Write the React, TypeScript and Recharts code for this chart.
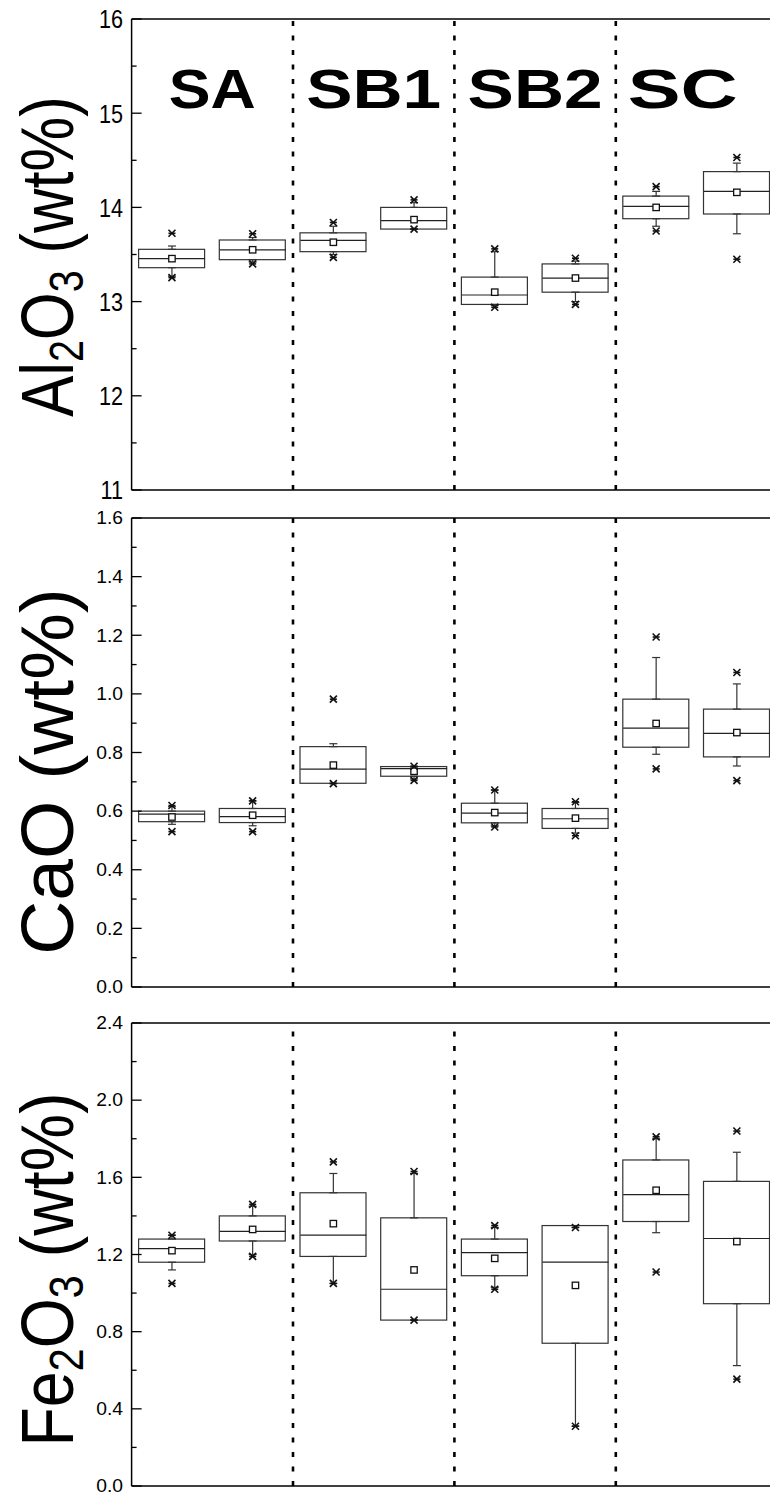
import React from 'react'
import { ComposedChart, Bar, Scatter, ErrorBar, XAxis, YAxis, ReferenceLine } from 'recharts'

const samples = [0, 1, 2, 3, 4, 5, 6, 7]
const groups = ['SA', 'SB1', 'SB2', 'SC']
const dividers = [1.5, 3.5, 5.5]

// Al2O3 (wt%)
const alQ1 = [13.36, 13.445, 13.53, 13.77, 12.97, 13.1, 13.88, 13.93]
const alMed = [13.456, 13.55, 13.65, 13.86, 13.07, 13.25, 14.01, 14.17]
const alQ3 = [13.555, 13.654, 13.73, 14.0, 13.26, 13.4, 14.12, 14.38]
const alMean = [13.456, 13.55, 13.63, 13.87, 13.1, 13.25, 14.0, 14.16]
const alWLo = [13.27, 13.42, 13.5, 13.77, 12.96, 13.0, 13.8, 13.72]
const alWHi = [13.59, 13.68, 13.8, 14.05, 13.53, 13.43, 14.17, 14.47]
const alMin = [13.254, 13.4, 13.47, 13.77, 12.94, 12.97, 13.75, 13.45]
const alMax = [13.725, 13.72, 13.84, 14.08, 13.56, 13.46, 14.22, 14.53]

// CaO (wt%)
const caQ1 = [0.564, 0.561, 0.695, 0.719, 0.56, 0.541, 0.818, 0.785]
const caMed = [0.59, 0.581, 0.743, 0.745, 0.593, 0.574, 0.883, 0.865]
const caQ3 = [0.6, 0.609, 0.82, 0.752, 0.627, 0.609, 0.982, 0.948]
const caMean = [0.58, 0.586, 0.757, 0.736, 0.595, 0.576, 0.899, 0.868]
const caWLo = [0.555, 0.55, 0.694, 0.71, 0.55, 0.525, 0.794, 0.754]
const caWHi = [0.615, 0.635, 0.83, 0.753, 0.672, 0.63, 1.124, 1.034]
const caMin = [0.53, 0.53, 0.694, 0.705, 0.546, 0.516, 0.744, 0.704]
const caMax = [0.619, 0.635, 0.982, 0.753, 0.672, 0.632, 1.194, 1.073]

// Fe2O3 (wt%)
const feQ1 = [1.16, 1.27, 1.19, 0.86, 1.09, 0.74, 1.371, 0.945]
const feMed = [1.23, 1.32, 1.3, 1.02, 1.21, 1.16, 1.51, 1.283]
const feQ3 = [1.28, 1.4, 1.52, 1.39, 1.28, 1.35, 1.69, 1.579]
const feMean = [1.22, 1.33, 1.36, 1.12, 1.18, 1.04, 1.533, 1.267]
const feWLo = [1.12, 1.2, 1.05, 0.86, 1.03, 0.31, 1.313, 0.624]
const feWHi = [1.3, 1.45, 1.62, 1.62, 1.34, 1.34, 1.8, 1.73]
const feMin = [1.05, 1.19, 1.05, 0.86, 1.02, 0.31, 1.109, 0.554]
const feMax = [1.3, 1.46, 1.68, 1.63, 1.35, 1.34, 1.81, 1.84]

const alMajor = [11, 12, 13, 14, 15, 16]
const alMinor = [11.5, 12.5, 13.5, 14.5, 15.5]
const caMajor = [0, 0.2, 0.4, 0.6, 0.8, 1.0, 1.2, 1.4, 1.6]
const caMinor = [0.1, 0.3, 0.5, 0.7, 0.9, 1.1, 1.3, 1.5]
const feMajor = [0, 0.4, 0.8, 1.2, 1.6, 2.0, 2.4]
const feMinor = [0.2, 0.6, 1.0, 1.4, 1.8, 2.2]

const FONT = 'Liberation Sans, Arial, Helvetica, sans-serif'
const BOX_W = 66
const CHART_W = 790

function buildRows(q1, med, q3, mean, wLo, wHi, mn, mx) {
  return samples.map((x, i) => ({
    x,
    box: [q1[i], q3[i]],
    q1: q1[i],
    q3: q3[i],
    med: med[i],
    mean: mean[i],
    min: mn[i],
    max: mx[i],
    errUp: [0, wHi[i] - q3[i]],
    errDown: [q1[i] - wLo[i], 0],
  }))
}

const BoxShape = (p: any) => {
  const top = Math.min(p.y, p.y + p.height)
  const h = Math.abs(p.height)
  return <rect x={p.x} y={top} width={p.width} height={h} fill="#fff" stroke="#333" strokeWidth={1.2} />
}
const MedianShape = (p: any) => (
  <line x1={p.cx - BOX_W / 2} x2={p.cx + BOX_W / 2} y1={p.cy} y2={p.cy} stroke="#222" strokeWidth={1.2} />
)
const MeanShape = (p: any) => (
  <rect x={p.cx - 3.2} y={p.cy - 3.2} width={6.4} height={6.4} fill="#fff" stroke="#111" strokeWidth={1.3} />
)
const StarShape = (p: any) => (
  <g stroke="#111" strokeWidth={1.6}>
    <line x1={p.cx - 3.5} y1={p.cy - 3.5} x2={p.cx + 3.5} y2={p.cy + 3.5} />
    <line x1={p.cx - 3.5} y1={p.cy + 3.5} x2={p.cx + 3.5} y2={p.cy - 3.5} />
    <line x1={p.cx - 3.5} y1={p.cy} x2={p.cx + 3.5} y2={p.cy} />
  </g>
)
const NoShape = () => <g />

function makeLeftTick(majors: number[], fs: number, sx: number, dec: number) {
  return (p: any) => {
    const v = p.payload.value
    const major = majors.some((m) => Math.abs(m - v) < 1e-6)
    return (
      <g>
        <line x1={p.x} x2={p.x + (major ? 10 : 5)} y1={p.y} y2={p.y} stroke="#000" strokeWidth={1.3} />
        {major && (
          <text
            transform={`translate(${p.x - 8.6},${p.y + fs * 0.36}) scale(${sx},1)`}
            textAnchor="end"
            fontSize={fs}
            fontFamily={FONT}
            fill="#000"
          >
            {v.toFixed(dec)}
          </text>
        )}
      </g>
    )
  }
}
function makeRightTick(majors: number[]) {
  return (p: any) => {
    const v = p.payload.value
    const major = majors.some((m) => Math.abs(m - v) < 1e-6)
    return <line x1={p.x - (major ? 10 : 5)} x2={p.x} y1={p.y} y2={p.y} stroke="#000" strokeWidth={1.3} />
  }
}

function AxisTitle({ viewBox, parts, stretch, shift }: any) {
  const cx = viewBox.x - 58
  const cy = viewBox.y + viewBox.height / 2 + shift
  return (
    <text
      transform={`translate(${cx},${cy}) rotate(-90) scale(${stretch},1)`}
      textAnchor="middle"
      fontSize={75}
      fontFamily={FONT}
      fill="#000"
    >
      {parts.map((t: any, i: number) =>
        t.sub ? (
          <tspan key={i} fontSize={48} dy={10}>
            {t.s}
          </tspan>
        ) : (
          <tspan key={i} dy={i > 0 && parts[i - 1].sub ? -10 : 0}>
            {t.s}
          </tspan>
        )
      )}
    </text>
  )
}

const GroupTitle = (p: any) => (
  <text
    x={p.cx}
    y={p.cy}
    textAnchor="middle"
    fontSize={56}
    fontWeight="bold"
    fontFamily={FONT}
    fill="#000"
    textLength={p.payload.w}
    lengthAdjust="spacingAndGlyphs"
  >
    {p.payload.name}
  </text>
)

function Panel({ rows, domain, majors, minors, fs, sx, dec, parts, stretch, shift, top, height, mTop, mBottom, titles }: any) {
  const ticks = [...majors, ...minors].sort((a, b) => a - b)
  const line = { stroke: '#000', strokeWidth: 1.5 }
  return (
    <div style={{ position: 'absolute', left: 0, top }}>
      <ComposedChart
        width={CHART_W}
        height={height}
        data={rows}
        margin={{ top: mTop, right: 11.8, bottom: mBottom, left: 130.6 }}
      >
        <XAxis xAxisId="b" dataKey="x" type="number" domain={[-0.5, 7.5]} ticks={samples} interval={0}
          height={1} tick={false} tickSize={-9} tickLine={line} axisLine={line} />
        <XAxis xAxisId="t" orientation="top" dataKey="x" type="number" domain={[-0.5, 7.5]} ticks={samples}
          interval={0} height={1} tick={false} tickSize={-8} tickLine={line} axisLine={line} />
        <YAxis yAxisId="l" type="number" domain={domain} ticks={ticks} interval={0} width={1}
          tickSize={0} tickMargin={0} tickLine={false} axisLine={line}
          tick={makeLeftTick(majors, fs, sx, dec)}
          label={{
            content: (lp: any) => <AxisTitle viewBox={lp.viewBox} parts={parts} stretch={stretch} shift={shift} />,
          }} />
        <YAxis yAxisId="r" orientation="right" type="number" domain={domain} ticks={ticks} interval={0}
          width={1} tickSize={0} tickMargin={0} tickLine={false} axisLine={line} tick={makeRightTick(majors)} />
        {dividers.map((d) => (
          <ReferenceLine key={d} x={d} xAxisId="b" yAxisId="l" stroke="#000" strokeWidth={2.6}
            strokeDasharray="5 9.5" />
        ))}
        <Bar xAxisId="b" yAxisId="l" dataKey="box" barSize={BOX_W} shape={BoxShape} isAnimationActive={false} />
        <Scatter xAxisId="b" yAxisId="l" dataKey="q3" shape={NoShape} isAnimationActive={false}>
          <ErrorBar dataKey="errUp" direction="y" width={4} stroke="#333" strokeWidth={1.2} isAnimationActive={false} />
        </Scatter>
        <Scatter xAxisId="b" yAxisId="l" dataKey="q1" shape={NoShape} isAnimationActive={false}>
          <ErrorBar dataKey="errDown" direction="y" width={4} stroke="#333" strokeWidth={1.2} isAnimationActive={false} />
        </Scatter>
        <Scatter xAxisId="b" yAxisId="l" dataKey="med" shape={MedianShape} isAnimationActive={false} />
        <Scatter xAxisId="b" yAxisId="l" dataKey="mean" shape={MeanShape} isAnimationActive={false} />
        <Scatter xAxisId="b" yAxisId="l" dataKey="min" shape={StarShape} isAnimationActive={false} />
        <Scatter xAxisId="b" yAxisId="l" dataKey="max" shape={StarShape} isAnimationActive={false} />
        {titles && (
          <Scatter xAxisId="t" yAxisId="l" data={titles} dataKey="y" shape={GroupTitle} isAnimationActive={false} />
        )}
      </ComposedChart>
    </div>
  )
}

export default function App() {
  const alRows = buildRows(alQ1, alMed, alQ3, alMean, alWLo, alWHi, alMin, alMax)
  const caRows = buildRows(caQ1, caMed, caQ3, caMean, caWLo, caWHi, caMin, caMax)
  const feRows = buildRows(feQ1, feMed, feQ3, feMean, feWLo, feWHi, feMin, feMax)
  const titleX = [0.5, 2.5, 4.5, 6.33]
  const titleW = [87, 135, 135, 110]
  const titles = groups.map((name, i) => ({ x: titleX[i], y: 15.05, name, w: titleW[i] }))
  return (
    <div style={{ position: 'absolute', left: 0, top: 0, width: 770, height: 1493, overflow: 'hidden', background: '#fff' }}>
      <Panel rows={alRows} domain={[11, 16]} majors={alMajor} minors={alMinor} fs={26} sx={0.83} dec={0}
        parts={[{ s: 'Al' }, { s: '2', sub: true }, { s: 'O' }, { s: '3', sub: true }, { s: ' (wt%)' }]}
        stretch={0.82} shift={2}
        top={0} height={510} mTop={18} mBottom={19} titles={titles} />
      <Panel rows={caRows} domain={[0, 1.6]} majors={caMajor} minors={caMinor} fs={17.5} sx={1.1} dec={1}
        parts={[{ s: 'CaO (wt%)' }]} stretch={1} shift={19}
        top={500} height={507} mTop={17} mBottom={19} />
      <Panel rows={feRows} domain={[0, 2.4]} majors={feMajor} minors={feMinor} fs={17.5} sx={1.1} dec={1}
        parts={[{ s: 'Fe' }, { s: '2', sub: true }, { s: 'O' }, { s: '3', sub: true }, { s: ' (wt%)' }]}
        stretch={0.86} shift={15}
        top={997} height={506} mTop={25} mBottom={16} />
    </div>
  )
}
